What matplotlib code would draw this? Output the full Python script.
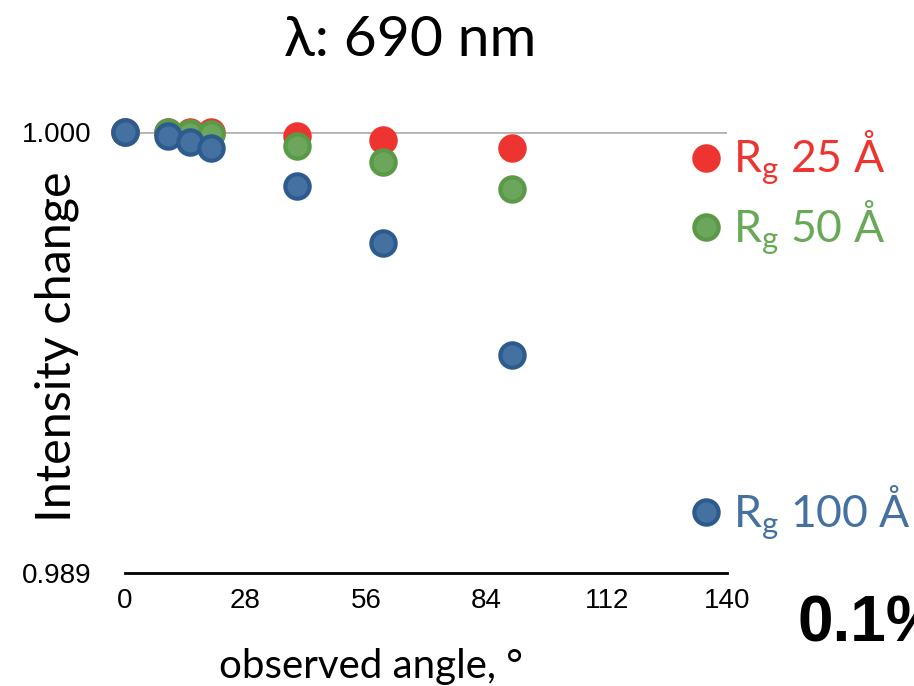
import matplotlib
matplotlib.use("Agg")
import matplotlib.pyplot as plt

plt.rcParams["mathtext.fontset"] = "custom"
plt.rcParams["mathtext.rm"] = "Lato"

angles = [0, 10, 15, 20, 40, 60, 90, 135]
rg25 = [1.0000, 1.0000, 1.0000, 1.0000, 0.99989, 0.99979, 0.99961, 0.99936]
rg50 = [1.0000, 0.99999, 0.99997, 0.99996, 0.99964, 0.99926, 0.99859, 0.99762]
rg100 = [1.0000, 0.99989, 0.99976, 0.99961, 0.99866, 0.99722, 0.99444, 0.99052]
labels = ["R$_\\mathregular{g}$ 25 Å", "R$_\\mathregular{g}$ 50 Å", "R$_\\mathregular{g}$ 100 Å"]
xticks = [0, 28, 56, 84, 112, 140]
yticks = [0.989, 1.000]

series = [
    (rg25, "#EE3430", "#EE3430", "#EE3430"),
    (rg50, "#5A9A47", "#6CA65C", "#67A957"),
    (rg100, "#2D5B8F", "#44719F", "#44719F"),
]

fig = plt.figure(figsize=(9.14, 6.86), dpi=100)
ax = fig.add_axes([125 / 914, 1 - 573 / 686, 602 / 914, 441 / 686])

ax.axhline(1.0, color="#B3B3B3", lw=2, zorder=1)

for (vals, edge, face, txt), lab in zip(series, labels):
    ax.plot(angles, vals, "o", ls="none", ms=17.5, mfc=face, mec=edge,
            mew=3, clip_on=False, zorder=3)
    ax.annotate(lab, xy=(angles[-1], vals[-1]), xytext=(20, 0),
                textcoords="offset points", va="center", ha="left",
                color=txt, fontsize=32, family=["Lato", "DejaVu Sans"],
                annotation_clip=False)

ax.set_xlim(0, 140)
ax.set_ylim(0.989, 1.000)
ax.set_xticks(xticks)
ax.set_xticklabels([str(t) for t in xticks])
ax.set_yticks(yticks)
ax.set_yticklabels(["%.3f" % t for t in yticks])
ax.tick_params(length=0, labelsize=20)
ax.tick_params(axis="x", pad=11)
ax.tick_params(axis="y", pad=24)
for lab in ax.get_xticklabels() + ax.get_yticklabels():
    lab.set_family(["Liberation Sans", "DejaVu Sans"])

for s in ["top", "right", "left"]:
    ax.spines[s].set_visible(False)
ax.spines["bottom"].set_linewidth(2)

ax.set_ylabel("Intensity change", fontsize=35, family=["Lato", "DejaVu Sans"])
ax.yaxis.set_label_coords(-0.077, 0.513)
ax.set_xlabel("observed angle, °", fontsize=29, family=["Lato", "DejaVu Sans"])
ax.xaxis.label.set_va("baseline")
ax.xaxis.set_label_coords(0.409, -0.237)

fig.text(410 / 914, 1 - 40 / 686, "λ: 690 nm", ha="center", va="center",
         fontsize=41, family=["Lato", "DejaVu Sans"])
fig.text(797 / 914, 1 - 642 / 686, "0.1%", ha="left", va="baseline",
         fontsize=46, fontweight="bold", family=["Liberation Sans", "DejaVu Sans"])

fig.savefig("out.png", dpi=100)
